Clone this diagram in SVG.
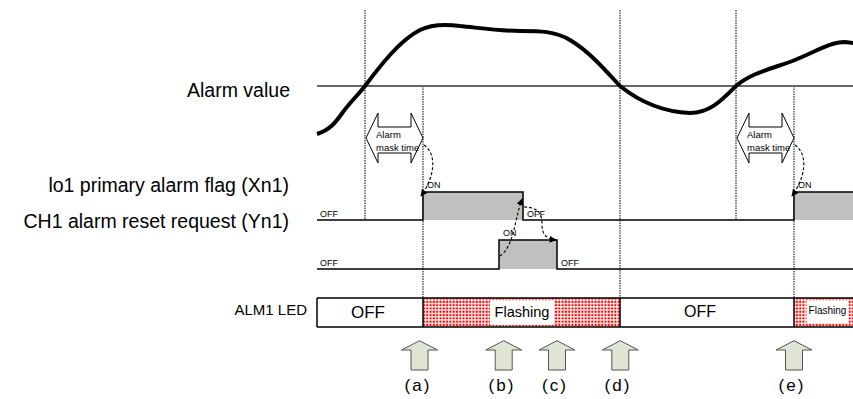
<svg xmlns="http://www.w3.org/2000/svg" width="853" height="399" viewBox="0 0 853 399">
<defs>
<style>
.lbl{font-family:"Liberation Sans",Arial,sans-serif;fill:#000}
.big{font-size:19.5px;text-anchor:end}
.sm{font-size:9px}
.dot{stroke:#000;stroke-width:1;stroke-dasharray:1.5 1;fill:none}
.wave{stroke:#000;stroke-width:1.5;fill:none}
.gray{fill:#c0c0c0}
.dash{stroke:#000;stroke-width:1.1;stroke-dasharray:3 2;fill:none}
.mask{fill:#fff;stroke:#000;stroke-width:1}
.up{fill:#e0e4d2;stroke:#555;stroke-width:1}
.par{font-family:"Liberation Sans",Arial,sans-serif;font-size:17px;letter-spacing:2px;text-anchor:middle}
</style>
<pattern id="reddots" width="3.3" height="3.3" patternUnits="userSpaceOnUse">
<rect width="3.3" height="3.3" fill="#fff"/>
<rect x="0.5" y="0.5" width="2.1" height="2.1" fill="#f00"/>
</pattern>
<marker id="ah" viewBox="0 0 10 10" refX="9" refY="5" markerWidth="7" markerHeight="7" markerUnits="userSpaceOnUse" orient="auto">
<path d="M0,0 L10,5 L0,10 Z" fill="#000"/>
</marker>
</defs>
<rect width="853" height="399" fill="#fff"/>

<g id="labels">
<text class="lbl big" x="290" y="97">Alarm value</text>
<text class="lbl big" x="289" y="192">lo1 primary alarm flag (Xn1)</text>
<text class="lbl big" x="289" y="228">CH1 alarm reset request (Yn1)</text>
<text class="lbl" x="307" y="315" font-size="15" text-anchor="end">ALM1 LED</text>
</g>

<g id="guides">
<line class="dot" x1="365" y1="10" x2="365" y2="220"/>
<line class="dot" x1="423" y1="86" x2="423" y2="298"/>
<line class="dot" x1="620" y1="10" x2="620" y2="298"/>
<line class="dot" x1="736" y1="10" x2="736" y2="220"/>
<line class="dot" x1="794" y1="86" x2="794" y2="298"/>
</g>

<g id="alarm-value">
<line x1="317" y1="86" x2="853" y2="86" stroke="#666" stroke-width="1.8"/>
<path d="M317,134 C330,130 336,122 343,112 C352,100 358,95 365,86 C380,66 400,40 420,30 C432,24 445,24 460,26 C480,28 500,31 520,31 C540,31 555,31 570,40 C590,52 605,70 620,86 C640,102 665,112 690,113 C710,113 722,100 736,86 C752,72 775,68 795,60 C815,52 830,42 845,42 L853,43" fill="none" stroke="#000" stroke-width="4"/>
</g>

<g id="mask1">
<path class="mask" d="M366,138 L378,113 L378,127 L411,127 L411,113 L423,138 L411,163 L411,153 L378,153 L378,163 Z"/>
<text class="lbl" x="376" y="138" font-size="9.5">Alarm</text>
<text class="lbl" x="376" y="151" font-size="9.5">mask time</text>
</g>
<g id="mask2">
<path class="mask" d="M737,138 L749,113 L749,127 L782,127 L782,113 L794,138 L782,163 L782,153 L749,153 L749,163 Z"/>
<text class="lbl" x="747" y="138" font-size="9.5">Alarm</text>
<text class="lbl" x="747" y="151" font-size="9.5">mask time</text>
</g>

<g id="flag">
<rect class="gray" x="423" y="192" width="100" height="28"/>
<rect class="gray" x="794" y="192" width="59" height="28"/>
<path class="wave" d="M317,220 H423 V192 H523 V220 H794 V192 H853"/>
<text class="lbl sm" x="320" y="217">OFF</text>
<text class="lbl sm" x="427" y="188">ON</text>
<text class="lbl sm" x="527" y="217">OFF</text>
<text class="lbl sm" x="798" y="188">ON</text>
</g>

<g id="reset">
<rect class="gray" x="499" y="240" width="58" height="29"/>
<path class="wave" d="M317,269 H499 V240 H557 V269 H853"/>
<text class="lbl sm" x="320" y="266">OFF</text>
<text class="lbl sm" x="503" y="236">ON</text>
<text class="lbl sm" x="561" y="266">OFF</text>
</g>

<g id="connectors">
<path class="dash" d="M424,145 C438,155 434,178 421,196" marker-end="url(#ah)"/>
<path class="dash" d="M795,145 C809,155 805,178 792,196" marker-end="url(#ah)"/>
<path class="dash" d="M500,256 C514,246 514,222 522,199" marker-end="url(#ah)"/>
<path class="dash" d="M524,207 C538,207 542,214 542,224 C542,234 546,239 556,240" marker-end="url(#ah)"/>
</g>

<g id="led">
<rect x="317" y="298" width="106" height="29" fill="#fff"/>
<rect x="423" y="298" width="197" height="29" fill="url(#reddots)"/>
<rect x="620" y="298" width="174" height="29" fill="#fff"/>
<rect x="794" y="298" width="59" height="29" fill="url(#reddots)"/>
<rect x="490" y="300.5" width="64" height="24.5" fill="#fff"/>
<rect x="806.5" y="300.5" width="42" height="23" fill="#fff"/>
<path d="M317,298 H853 M317,327 H853 M317,298 V327 M423,298 V327 M620,298 V327 M794,298 V327" stroke="#000" stroke-width="1.5" fill="none"/>
<text class="lbl" x="368" y="317.5" font-size="17" text-anchor="middle">OFF</text>
<text class="lbl" x="522" y="317" font-size="14.5" text-anchor="middle">Flashing</text>
<text class="lbl" x="700" y="317" font-size="16" text-anchor="middle">OFF</text>
<text class="lbl" x="827.5" y="314" font-size="10" text-anchor="middle">Flashing</text>
</g>

<g id="event-a">
<path class="up" d="M401.5,350 L419.5,340.7 L437.5,350 L428,350 L428,370 L411,370 L411,350 Z"/>
<text class="par" x="418" y="391">(a)</text>
</g>
<g id="event-b">
<path class="up" d="M485.7,350 L503.7,340.7 L521.7,350 L512.2,350 L512.2,370 L495.2,370 L495.2,350 Z"/>
<text class="par" x="502" y="391">(b)</text>
</g>
<g id="event-c">
<path class="up" d="M539,350 L557,340.7 L575,350 L565.5,350 L565.5,370 L548.5,370 L548.5,350 Z"/>
<text class="par" x="555" y="391">(c)</text>
</g>
<g id="event-d">
<path class="up" d="M602.3,350 L620.3,340.7 L638.3,350 L628.8,350 L628.8,370 L611.8,370 L611.8,350 Z"/>
<text class="par" x="618" y="391">(d)</text>
</g>
<g id="event-e">
<path class="up" d="M776,350 L794,340.7 L812,350 L802.5,350 L802.5,370 L785.5,370 L785.5,350 Z"/>
<text class="par" x="792" y="391">(e)</text>
</g>
</svg>
